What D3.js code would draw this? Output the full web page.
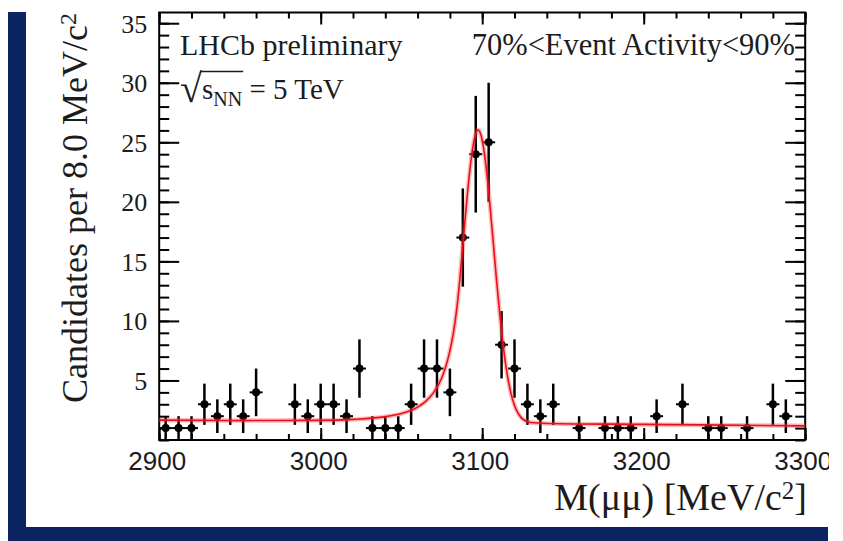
<!DOCTYPE html>
<html>
<head>
<meta charset="utf-8">
<script src="https://cdn.jsdelivr.net/npm/d3@7/dist/d3.min.js"></script>
<style>
  html, body { margin: 0; padding: 0; background: #fff; }
  svg { display: block; }
</style>
</head>
<body>
<svg id="chart" width="843" height="541"></svg>
<script>
// Dimuon invariant-mass spectrum in 8 MeV/c^2 bins, with the fitted model.
const massBins = [
  2904, 2912, 2920, 2928, 2936, 2944, 2952, 2960, 2968, 2976,
  2984, 2992, 3000, 3008, 3016, 3024, 3032, 3040, 3048, 3056,
  3064, 3072, 3080, 3088, 3096, 3104, 3112, 3120, 3128, 3136,
  3144, 3152, 3160, 3168, 3176, 3184, 3192, 3200, 3208, 3216,
  3224, 3232, 3240, 3248, 3256, 3264, 3272, 3280, 3288, 3296
];
const candidates = [
  1, 1, 1, 3, 2, 3, 2, 4, 0, 0,
  3, 2, 3, 3, 2, 6, 1, 1, 1, 3,
  6, 6, 4, 17, 24, 25, 8, 6, 3, 2,
  3, 0, 1, 0, 1, 1, 1, 0, 2, 0,
  3, 0, 1, 1, 0, 1, 0, 3, 2, 0
];
const binHalfWidth = 4;

// Fitted signal + background curve (candidates per bin)
const fitMass = [
  2900, 2950, 3000, 3020, 3040, 3050, 3060, 3065, 3070, 3075,
  3078, 3080, 3082, 3084, 3086, 3088, 3090, 3092, 3094, 3096,
  3097.5, 3099, 3101, 3103, 3105, 3107, 3109, 3111, 3113, 3115,
  3117, 3119, 3121, 3124, 3127, 3130, 3140, 3200, 3300
];
const fitCandidates = [
  1.67, 1.63, 1.65, 1.73, 1.96, 2.22, 2.76, 3.24, 4.00, 5.23,
  6.42, 7.49, 8.87, 10.74, 13.27, 16.36, 19.43, 22.23, 24.41, 25.72,
  26.03, 25.71, 24.40, 22.22, 19.42, 16.34, 13.25, 10.40, 7.91, 5.92,
  4.41, 3.32, 2.57, 1.90, 1.60, 1.47, 1.39, 1.31, 1.19
];

const massTicks = [2900, 3000, 3100, 3200, 3300];
const massMinorTicks = d3.range(2900, 3301, 20);
const countTicks = [5, 10, 15, 20, 25, 30, 35];
const countMinorTicks = d3.range(0, 36, 1);

const svg = d3.select("#chart");
const navy = "#0b2360";
const ink = "#1c1c1c";
const serif = "'Liberation Serif', 'Times New Roman', serif";
const sans = "'Liberation Sans', Arial, sans-serif";

const frame = { left: 159.2, right: 805.2, top: 12.5, bottom: 440 };
const x = d3.scaleLinear().domain([2900, 3300]).range([frame.left, frame.right]);
const y = d3.scaleLinear().domain([0, 35.9]).range([frame.bottom, frame.top]);

// slide border
svg.append("rect").attr("x", 8).attr("y", 12).attr("width", 18).attr("height", 529).attr("fill", navy);
svg.append("rect").attr("x", 8).attr("y", 527).attr("width", 820).attr("height", 14).attr("fill", navy);

svg.append("defs").append("clipPath").attr("id", "pageClip")
  .append("rect").attr("x", 0).attr("y", 0).attr("width", 829).attr("height", 527);

const root = svg.append("g").attr("clip-path", "url(#pageClip)");

function styleAxis(g) {
  g.select(".domain").remove();
  g.selectAll(".tick line").attr("stroke", "#000").attr("stroke-width", 2);
}

// bottom axis
root.append("g").attr("transform", `translate(0,${frame.bottom})`)
  .call(d3.axisBottom(x).tickValues(massMinorTicks).tickSize(-6).tickFormat(""))
  .call(styleAxis);
root.append("g").attr("transform", `translate(0,${frame.bottom})`)
  .call(d3.axisBottom(x).tickValues(massTicks).tickSize(-12).tickFormat(d3.format("d")))
  .call(styleAxis)
  .call(g => g.selectAll("text")
    .attr("y", 30).attr("dy", null).attr("dx", -2.5)
    .attr("fill", ink).style("font-family", sans).style("font-size", "26px"));

// top axis
root.append("g").attr("transform", `translate(0,${frame.top})`)
  .call(d3.axisTop(x).tickValues(massMinorTicks).tickSize(-6).tickFormat(""))
  .call(styleAxis);
root.append("g").attr("transform", `translate(0,${frame.top})`)
  .call(d3.axisTop(x).tickValues(massTicks).tickSize(-12).tickFormat(""))
  .call(styleAxis);

// left axis
root.append("g").attr("transform", `translate(${frame.left},0)`)
  .call(d3.axisLeft(y).tickValues(countMinorTicks).tickSize(-10).tickFormat(""))
  .call(styleAxis);
root.append("g").attr("transform", `translate(${frame.left},0)`)
  .call(d3.axisLeft(y).tickValues(countTicks).tickSize(-20).tickFormat(d3.format("d")))
  .call(styleAxis)
  .call(g => g.selectAll("text")
    .attr("x", -12).attr("dy", "0.34em")
    .attr("fill", ink).style("font-family", serif).style("font-size", "26px"));

// right axis
root.append("g").attr("transform", `translate(${frame.right},0)`)
  .call(d3.axisRight(y).tickValues(countMinorTicks).tickSize(-10).tickFormat(""))
  .call(styleAxis);
root.append("g").attr("transform", `translate(${frame.right},0)`)
  .call(d3.axisRight(y).tickValues(countTicks).tickSize(-20).tickFormat(""))
  .call(styleAxis);

// frame
root.append("rect")
  .attr("x", frame.left).attr("y", frame.top)
  .attr("width", frame.right - frame.left).attr("height", frame.bottom - frame.top)
  .attr("fill", "none").attr("stroke", "#000").attr("stroke-width", 2);

// data points with sqrt(N) errors
const points = massBins.map((m, i) => ({ m, n: candidates[i] })).filter(d => d.n > 0);
const pts = root.append("g").attr("class", "data");
pts.selectAll("line.ey").data(points).join("line")
  .attr("class", "ey")
  .attr("x1", d => x(d.m)).attr("x2", d => x(d.m))
  .attr("y1", d => y(d.n - Math.sqrt(d.n))).attr("y2", d => y(d.n + Math.sqrt(d.n)))
  .attr("stroke", "#000").attr("stroke-width", 2.5);
pts.selectAll("line.ex").data(points).join("line")
  .attr("class", "ex")
  .attr("x1", d => x(d.m - binHalfWidth)).attr("x2", d => x(d.m + binHalfWidth))
  .attr("y1", d => y(d.n)).attr("y2", d => y(d.n))
  .attr("stroke", "#000").attr("stroke-width", 2);
pts.selectAll("circle").data(points).join("circle")
  .attr("cx", d => x(d.m)).attr("cy", d => y(d.n)).attr("r", 4)
  .attr("fill", "#000");

// fit curve
const fitData = fitMass.map((m, i) => ({ m, v: fitCandidates[i] }));
const fitLine = d3.line().x(d => x(d.m)).y(d => y(d.v)).curve(d3.curveMonotoneX);
root.append("path").datum(fitData).attr("d", fitLine)
  .attr("fill", "none").attr("stroke", "rgba(255,60,60,0.35)").attr("stroke-width", 4.5);
root.append("path").datum(fitData).attr("d", fitLine)
  .attr("fill", "none").attr("stroke", "#e8101a").attr("stroke-width", 1.6);

// annotations
root.append("text").attr("x", 180).attr("y", 55)
  .attr("fill", ink).style("font-family", serif).style("font-size", "30px")
  .text("LHCb preliminary");
root.append("text").attr("x", 795).attr("y", 55).attr("text-anchor", "end")
  .attr("fill", ink).style("font-family", serif).style("font-size", "30.5px")
  .text("70%<Event Activity<90%");

const energy = root.append("text").attr("x", 180).attr("y", 99)
  .attr("fill", ink).style("font-family", serif).style("font-size", "29px");
energy.append("tspan").attr("dy", 3).style("font-size", "40px").text("√");
energy.append("tspan").attr("dy", -3).text("s");
energy.append("tspan").attr("dy", 7).style("font-size", "20px").text("NN");
energy.append("tspan").attr("dy", -7).text(" = 5 TeV");
{
  const node = energy.node();
  const r = node.getExtentOfChar(0);
  const nn = node.getExtentOfChar(3);
  root.append("line")
    .attr("x1", r.x + r.width - 1.5).attr("x2", nn.x + nn.width + 1)
    .attr("y1", 71.5).attr("y2", 71.5)
    .attr("stroke", ink).attr("stroke-width", 1.5);
}

// axis titles
const yTitle = root.append("text")
  .attr("transform", "translate(87,13) rotate(-90)")
  .attr("text-anchor", "end")
  .attr("fill", ink).style("font-family", serif).style("font-size", "36px");
yTitle.append("tspan").text("Candidates per 8.0 MeV/c");
yTitle.append("tspan").attr("dy", "-0.45em").style("font-size", "24px").text("2");

const xTitle = root.append("text")
  .attr("x", 807).attr("y", 510).attr("text-anchor", "end")
  .attr("fill", ink).style("font-family", serif).style("font-size", "38px");
xTitle.append("tspan").text("M(μμ) [MeV/c");
xTitle.append("tspan").attr("dy", "-0.45em").style("font-size", "25px").text("2");
xTitle.append("tspan").attr("dy", "0.3em").text("]");
</script>
</body>
</html>
